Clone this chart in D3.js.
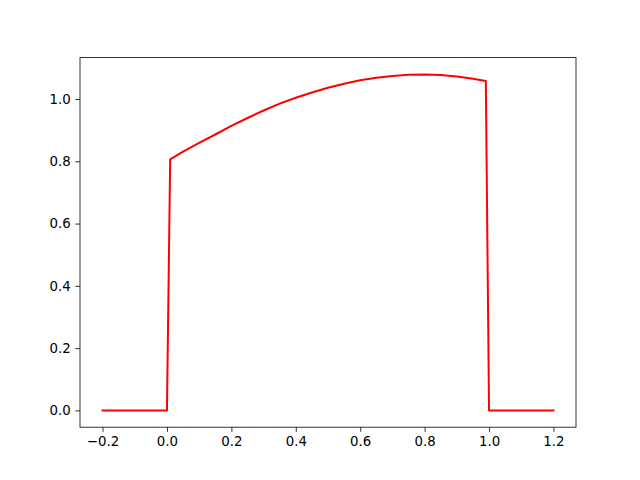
<!DOCTYPE html>
<html>
<head>
<meta charset="utf-8">
<script src="https://d3js.org/d3.v7.min.js"></script>
<style>
body{margin:0;background:#fff;}
svg{display:block;}
.tick text{font-family:"DejaVu Sans";font-size:13.33px;fill:#000;}
</style>
</head>
<body>
<div id="graph"></div>
<script>
// values
var xVals=[-0.2,0.0,0.01,0.05,0.1,0.15,0.2,0.25,0.3,0.35,0.4,0.45,0.5,0.55,0.6,0.65,0.7,0.75,0.8,0.85,0.9,0.95,0.99,1.0,1.2];
var yVals=[0,0,0.806,0.831,0.859,0.886,0.914,0.939,0.963,0.985,1.004,1.021,1.036,1.049,1.060,1.068,1.074,1.078,1.079,1.077,1.072,1.065,1.058,0,0];
var xTicks=[-0.2,0.0,0.2,0.4,0.6,0.8,1.0,1.2];
var yTicks=[0.0,0.2,0.4,0.6,0.8,1.0];

var width=640,height=480;
var axLeft=80,axRight=576,axTop=57.6,axBottom=427.2;

// matplotlib style 5% margins
var xmin=d3.min(xVals),xmax=d3.max(xVals),dx=(xmax-xmin)*0.05;
var ymin=d3.min(yVals),ymax=d3.max(yVals),dy=(ymax-ymin)*0.05;

var x=d3.scaleLinear().domain([xmin-dx,xmax+dx]).range([axLeft,axRight]);
var y=d3.scaleLinear().domain([ymin-dy,ymax+dy]).range([axBottom,axTop]);

var fmt=function(d){return d3.format(".1f")(d).replace("-","\u2212");};

var svg=d3.select("#graph").append("svg").attr("width",width).attr("height",height);

var pts=xVals.map(function(d,i){return [d,yVals[i]];});
var line=d3.line().x(function(d){return x(d[0]);}).y(function(d){return y(d[1]);});

svg.append("path").datum(pts)
	.attr("d",line)
	.attr("fill","none")
	.attr("stroke","#ff0000")
	.attr("stroke-width",2)
	.attr("stroke-linejoin","round")
	.attr("stroke-linecap","square");

var gx=svg.append("g").attr("transform","translate(0,"+axBottom+")")
	.call(d3.axisBottom(x).tickValues(xTicks).tickFormat(fmt).tickSizeInner(4.67).tickSizeOuter(0).tickPadding(4.67));
var gy=svg.append("g").attr("transform","translate("+axLeft+",0)")
	.call(d3.axisLeft(y).tickValues(yTicks).tickFormat(fmt).tickSizeInner(4.67).tickSizeOuter(0).tickPadding(4.67));
[gx,gy].forEach(function(g){
	g.select(".domain").remove();
	g.selectAll(".tick line").attr("stroke","#000").attr("stroke-width",0.8);
});

// frame
svg.append("rect").attr("x",axLeft).attr("y",axTop).attr("width",axRight-axLeft).attr("height",axBottom-axTop)
	.attr("fill","none").attr("stroke","#000").attr("stroke-width",0.8);
</script>
</body>
</html>
